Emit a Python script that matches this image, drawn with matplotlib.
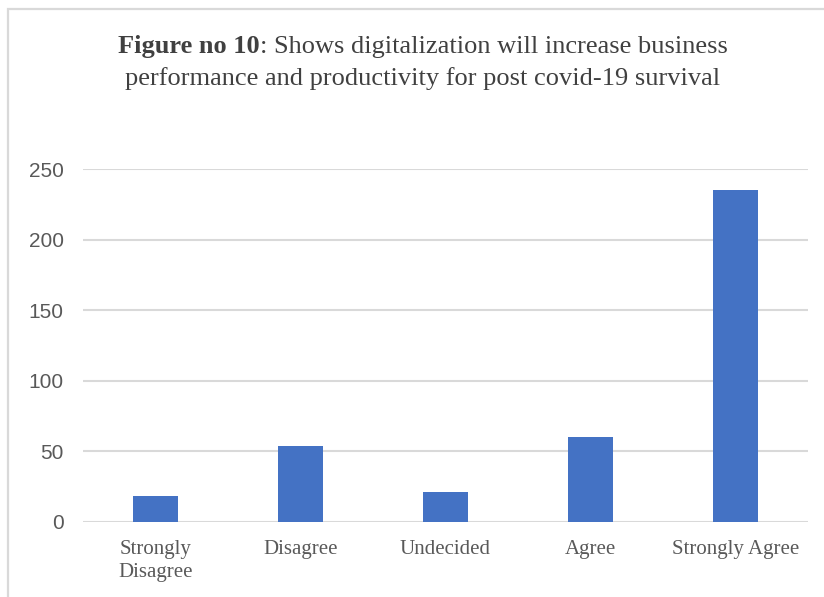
import matplotlib
matplotlib.use('Agg')
import matplotlib.pyplot as plt
from matplotlib.patches import Rectangle

# Survey responses
categories = ['Strongly\nDisagree', 'Disagree', 'Undecided', 'Agree', 'Strongly Agree']
counts = [18, 54, 21, 60, 235]
y_ticks = [0, 50, 100, 150, 200, 250]

BAR_COLOR = '#4472C4'
GRID_COLOR = '#D9D9D9'
TEXT_COLOR = '#595959'
SERIF = 'Liberation Serif'

fig = plt.figure(figsize=(8.24, 5.97), dpi=100)
ax = fig.add_axes([83 / 824, 1 - 521.7 / 597, 725 / 824, 352.4 / 597])

x = range(len(categories))
ax.bar(x, counts, width=0.31, color=BAR_COLOR, zorder=3)
ax.set_xlim(-0.5, len(categories) - 0.5)
ax.set_ylim(0, 250)
ax.set_yticks(y_ticks)
ax.set_xticks(list(x))
ax.set_xticklabels(categories, fontfamily=SERIF, fontsize=15, color=TEXT_COLOR,
                   linespacing=1.3)
ax.tick_params(axis='x', length=0, pad=13)
ax.tick_params(axis='y', length=0, pad=14, labelsize=15, labelcolor=TEXT_COLOR)
for lbl in ax.get_yticklabels():
    lbl.set_fontfamily('Liberation Sans')

ax.grid(axis='y', color=GRID_COLOR, linewidth=1.5, zorder=0)
for s in ax.spines.values():
    s.set_visible(False)

# chart area frame (only top and left edges fall inside the image)
fig.patches.append(Rectangle((8 / 824, -0.1), 1.2, 1 - 9 / 597 + 0.1,
                             transform=fig.transFigure, fill=False,
                             edgecolor=GRID_COLOR, linewidth=1.6))

# two-line title with bold lead-in
fig.canvas.draw()
renderer = fig.canvas.get_renderer()
cx = 423 / 824
t_bold = fig.text(0, 1 - 53 / 597, 'Figure no 10', fontfamily=SERIF, fontweight='bold',
                  fontsize=19, color='#404040', va='baseline', ha='left')
t_rest = fig.text(0, 1 - 53 / 597, ': Shows digitalization will increase business',
                  fontfamily=SERIF, fontsize=19, color='#404040', va='baseline', ha='left')
w1 = t_bold.get_window_extent(renderer).width
w2 = t_rest.get_window_extent(renderer).width
x0 = cx * 824 - (w1 + w2) / 2
t_bold.set_x(x0 / 824)
t_rest.set_x((x0 + w1) / 824)
fig.text(cx, 1 - 85 / 597, 'performance and productivity for post covid-19 survival',
         fontfamily=SERIF, fontsize=19, color='#404040', va='baseline', ha='center')

fig.savefig('out.png', dpi=100)
